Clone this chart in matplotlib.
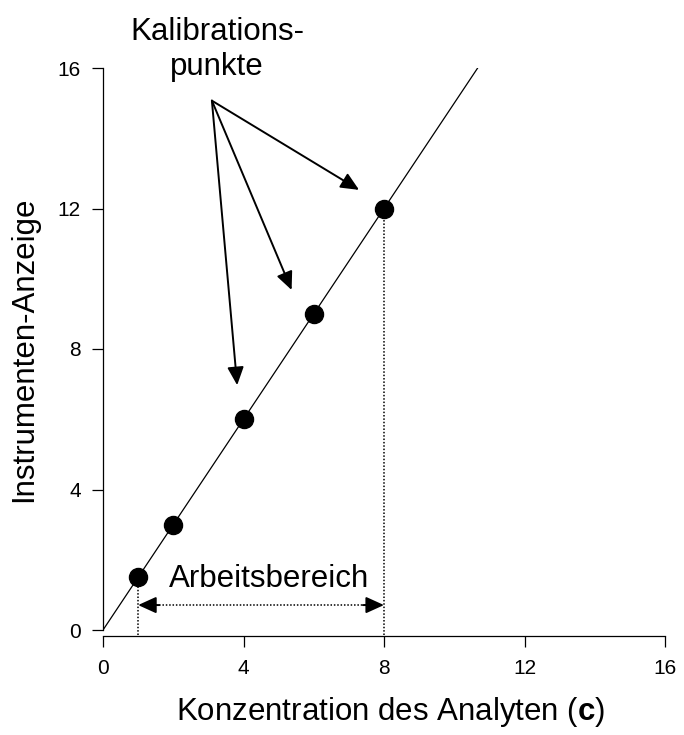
import numpy as np
import matplotlib
matplotlib.use('Agg')
import matplotlib.pyplot as plt

plt.rcParams['font.family'] = ['Liberation Sans', 'DejaVu Sans']
plt.rcParams['mathtext.fontset'] = 'custom'
plt.rcParams['mathtext.bf'] = 'Liberation Sans:bold'
plt.rcParams['mathtext.rm'] = 'Liberation Sans'

# Kalibrationspunkte
conc = [1, 2, 4, 6, 8]
signal = [1.5, 3, 6, 9, 12]

ticks = [0, 4, 8, 12, 16]

# Pfeile von der Beschriftung zu den Punkten
arrow_start = (3.1, 15.07)
arrow_tips = [(3.82, 6.97), (5.37, 9.68), (7.29, 12.53)]

# Arbeitsbereich
range_lo, range_hi = 1, 8
range_y = 0.71

fig = plt.figure(figsize=(6.84, 7.35), dpi=100)
ax = fig.add_axes([103 / 684, 105 / 735, 562 / 684, 562 / 735])

# Kalibriergerade
slope, icpt = np.polyfit(conc, signal, 1)
lx = np.array([0, (16 - icpt) / slope])
ax.plot(lx, slope * lx + icpt, color='k', lw=0.9, zorder=2)

ax.plot(conc, signal, 'o', color='k', ms=13, zorder=3)

# gepunktete Hilfslinien
dots = dict(color='k', lw=1.1, dashes=(1, 1.2), clip_on=False, zorder=1)
ax.plot([range_lo, range_lo], [-0.13, signal[0]], **dots)
ax.plot([range_hi, range_hi], [-0.13, signal[-1]], **dots)
ax.plot([range_lo + 0.3, range_hi - 0.3], [range_y, range_y], **dots)

head = dict(arrowstyle='-|>,head_length=0.55,head_width=0.25', color='k',
            lw=1.4, mutation_scale=20, shrinkA=0, shrinkB=0)
ax.annotate('', xy=(range_lo, range_y), xytext=(range_lo + 0.6, range_y), arrowprops=head)
ax.annotate('', xy=(range_hi, range_y), xytext=(range_hi - 0.6, range_y), arrowprops=head)

for tip in arrow_tips:
    ax.annotate('', xy=tip, xytext=arrow_start, arrowprops=head)

ax.text(4.73, 1.45, 'Arbeitsbereich', ha='center', va='center', fontsize=22.5)
ax.text(3.25, 16.52, 'Kalibrations-\npunkte', ha='center', va='center',
        fontsize=22.5, linespacing=1.2)

ax.set_xlim(0, 16)
ax.set_ylim(0, 16)
ax.set_xticks(ticks)
ax.set_yticks(ticks)
ax.tick_params(direction='out', length=8, width=0.9, labelsize=15, pad=8)
ax.tick_params(axis='x', pad=9)
for s in ['top', 'right']:
    ax.spines[s].set_visible(False)
for s in ['left', 'bottom']:
    ax.spines[s].set_linewidth(0.9)
ax.spines['bottom'].set_position(('outward', 4))

ax.set_xlabel('Konzentration des Analyten ($\\mathbf{c}$)', fontsize=22.5, va='center')
ax.xaxis.set_label_coords(0.511, -0.146)
ax.set_ylabel('Instrumenten-Anzeige', fontsize=22.5, va='center')
ax.yaxis.set_label_coords(-0.14, 0.5)

plt.savefig('out.png', dpi=100)
